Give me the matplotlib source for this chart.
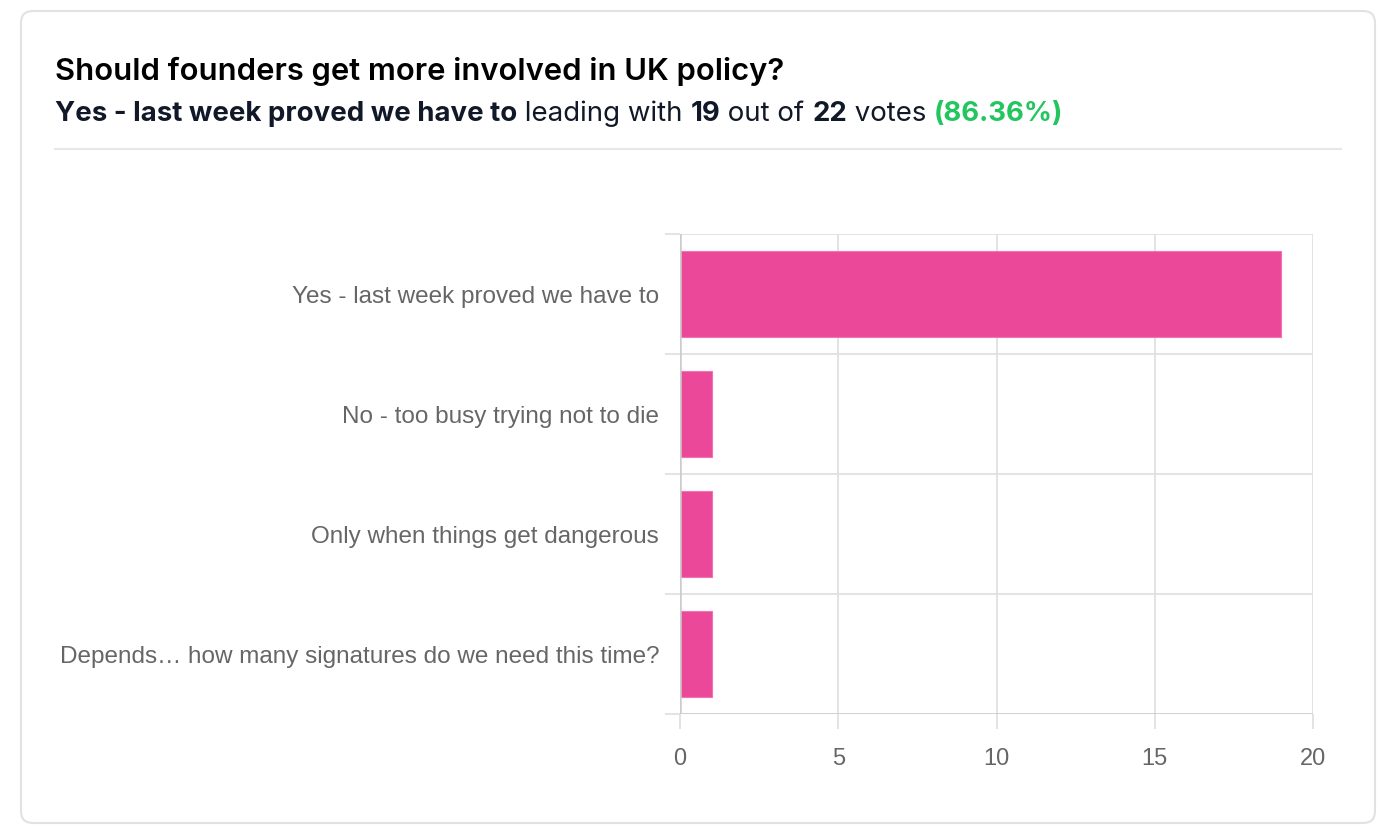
import matplotlib
matplotlib.use("Agg")
import matplotlib.pyplot as plt
from matplotlib.patches import FancyBboxPatch
from matplotlib.text import Annotation
from matplotlib.transforms import IdentityTransform
from matplotlib.ticker import MultipleLocator, FixedLocator

question = "Should founders get more involved in UK policy?"
options = [
    "Yes - last week proved we have to",
    "No - too busy trying not to die",
    "Only when things get dangerous",
    "Depends\u2026 how many signatures do we need this time?",
]
votes = [19, 1, 1, 1]
x_ticks = [0, 5, 10, 15, 20]

total = sum(votes)
lead = max(range(len(votes)), key=lambda i: votes[i])
pct = votes[lead] / total * 100

W, H = 1384, 840
fig = plt.figure(figsize=(W / 100, H / 100), dpi=100)
fig.patch.set_facecolor("white")

# card outline (pixel coords, y from bottom)
card = FancyBboxPatch((21, H - 823), 1354, 812, boxstyle="round,pad=0,rounding_size=12",
                      transform=IdentityTransform(), facecolor="none",
                      edgecolor="#e2e2e6", linewidth=1.5, zorder=-5)
fig.add_artist(card)

# header text
head_font = ["Inter", "DejaVu Sans"]
fig.text(55 / W, 1 - 71 / H, question, fontsize=22.3, fontweight="semibold",
         family=head_font, color="#000000", va="center", ha="left")

pieces = [
    (options[lead], "bold", "#111827"),
    (" leading with ", "normal", "#111827"),
    (str(votes[lead]), "bold", "#111827"),
    (" out of ", "normal", "#111827"),
    (str(total), "bold", "#111827"),
    (" votes ", "normal", "#111827"),
    ("(%.2f%%)" % pct, "bold", "#22c55e"),
]
sub_size = 19.9
prev = fig.text(55 / W, 1 - 114 / H, pieces[0][0], fontsize=sub_size, fontweight=pieces[0][1],
                family=head_font, color=pieces[0][2], va="center", ha="left")
for txt, wt, col in pieces[1:]:
    prev = fig.add_artist(Annotation(txt, xy=(1, 0), xycoords=prev, va="bottom", ha="left",
                                     fontsize=sub_size, fontweight=wt, family=head_font,
                                     color=col, annotation_clip=False))

fig.add_artist(plt.Line2D([55 / W, 1341 / W], [1 - 149 / H, 1 - 149 / H],
                          color="#e5e7eb", linewidth=1.5, transform=fig.transFigure))

# chart
ax = fig.add_axes([680 / W, 1 - 714 / H, (1313 - 680) / W, (714 - 234) / H])
ypos = list(range(len(options)))
ax.barh(ypos, votes, height=0.72, color="#ec4899", edgecolor="#f072b0", linewidth=0.8, zorder=3)

ax.set_xlim(0, 20)
ax.set_ylim(len(options) - 0.5, -0.5)
ax.xaxis.set_major_locator(FixedLocator(x_ticks))
ax.set_yticks(ypos)
ax.set_yticklabels(options)
ax.yaxis.set_minor_locator(MultipleLocator(1, offset=0.5))

for s in ax.spines.values():
    s.set_visible(False)

ax.grid(axis="x", which="major", color="#e0e0e0", linewidth=1.3, zorder=0)
ax.grid(axis="y", which="minor", color="#e0e0e0", linewidth=1.3, zorder=0)
ax.axvline(0, color="#cccccc", linewidth=1.8, zorder=4)
ax.axhline(len(options) - 0.5, color="#cccccc", linewidth=1.8, zorder=4)

ax.tick_params(axis="x", which="major", length=11, width=1.3, color="#e0e0e0",
               pad=13.5, labelsize=17, labelcolor="#666666")
ax.tick_params(axis="y", which="major", length=0, pad=15, labelsize=17.5, labelcolor="#666666")
ax.tick_params(axis="y", which="minor", length=11, width=1.3, color="#e0e0e0")
for lab in ax.get_xticklabels() + ax.get_yticklabels():
    lab.set_family(["Liberation Sans", "DejaVu Sans"])

fig.savefig("out.png", dpi=100, facecolor="white")
